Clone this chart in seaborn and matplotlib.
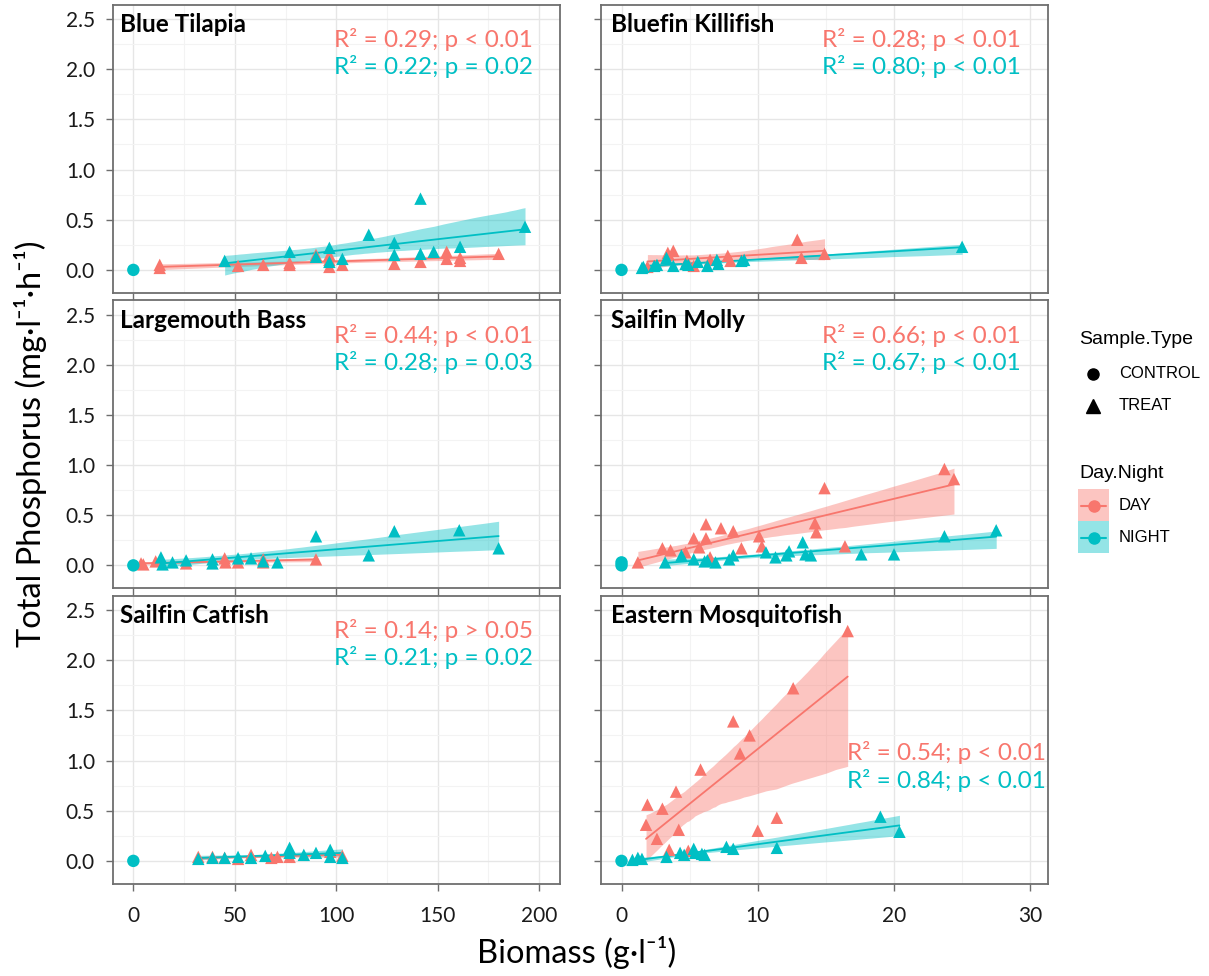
import numpy as np
import pandas as pd
import matplotlib
matplotlib.use("Agg")
import matplotlib.pyplot as plt
import seaborn as sns
from matplotlib.lines import Line2D
from matplotlib.patches import Rectangle
from matplotlib.ticker import MultipleLocator
from matplotlib.collections import PolyCollection

# ---------------- data ----------------
species = ["Blue Tilapia", "Bluefin Killifish", "Largemouth Bass",
           "Sailfin Molly", "Sailfin Catfish", "Eastern Mosquitofish"]

# Blue Tilapia
bt_day_x = [13, 13, 51.6, 64, 77, 77, 90, 96.6, 96.6, 96.6, 103, 128.6, 141.5, 154.4, 154.4, 161, 161, 180]
bt_day_y = [0.05, 0.02, 0.04, 0.05, 0.07, 0.05, 0.15, 0.15, 0.10, 0.03, 0.05, 0.06, 0.08, 0.18, 0.11, 0.12, 0.09, 0.16]
bt_night_x = [45, 77, 90, 96.6, 96.6, 103, 116, 128.6, 128.6, 141.5, 141.5, 148, 161, 193]
bt_night_y = [0.09, 0.18, 0.13, 0.22, 0.08, 0.11, 0.35, 0.27, 0.15, 0.71, 0.16, 0.18, 0.23, 0.43]
bt_ctrl_x = [0]
bt_ctrl_y = [0.0]

# Bluefin Killifish
bk_day_x = [1.9, 3.4, 3.8, 4.8, 5.3, 6.5, 7.8, 8.0, 12.9, 13.2, 14.9]
bk_day_y = [0.03, 0.17, 0.19, 0.09, 0.04, 0.10, 0.14, 0.09, 0.30, 0.12, 0.16]
bk_night_x = [1.5, 1.6, 2.4, 2.6, 3.3, 3.8, 4.7, 4.9, 5.6, 6.3, 7.0, 7.1, 8.8, 9.0, 25.0]
bk_night_y = [0.02, 0.03, 0.04, 0.05, 0.12, 0.04, 0.06, 0.05, 0.08, 0.04, 0.10, 0.06, 0.09, 0.10, 0.23]
bk_ctrl_x = [0]
bk_ctrl_y = [0.0]

# Largemouth Bass
lb_day_x = [3.8, 4.9, 11, 26, 45, 45.4, 51.6, 64, 64, 90]
lb_day_y = [0.02, 0.01, 0.04, 0.02, 0.07, 0.03, 0.03, 0.06, 0.03, 0.06]
lb_night_x = [13.6, 14.4, 19.3, 26, 39, 39, 51.6, 58, 64, 71, 90, 116, 128.6, 160.6, 180]
lb_night_y = [0.08, 0.01, 0.03, 0.05, 0.06, 0.02, 0.07, 0.07, 0.04, 0.03, 0.29, 0.10, 0.34, 0.35, 0.17]
lb_ctrl_x = [0]
lb_ctrl_y = [0.0]

# Sailfin Molly
sm_day_x = [1.2, 3.0, 3.6, 4.7, 5.3, 5.7, 6.2, 6.2, 6.5, 7.3, 8.2, 8.8, 10.1, 10.3, 14.2, 14.3, 14.9, 16.4, 23.7, 24.4]
sm_day_y = [0.03, 0.17, 0.15, 0.13, 0.27, 0.18, 0.41, 0.27, 0.08, 0.37, 0.34, 0.17, 0.29, 0.19, 0.42, 0.33, 0.77, 0.19, 0.96, 0.86]
sm_night_x = [3.2, 4.4, 5.3, 6.1, 6.3, 6.9, 7.9, 8.2, 10.6, 11.3, 12.1, 12.3, 13.3, 13.5, 13.9, 17.6, 20.0, 23.7, 27.5]
sm_night_y = [0.03, 0.10, 0.06, 0.04, 0.05, 0.03, 0.06, 0.10, 0.13, 0.08, 0.10, 0.14, 0.23, 0.11, 0.10, 0.11, 0.11, 0.29, 0.35]
sm_ctrl_x = [0, 0]
sm_ctrl_y = [0.0, 0.03]

# Sailfin Catfish
sc_day_x = [32, 39, 45, 51.6, 58, 68, 71, 77, 97, 103]
sc_day_y = [0.04, 0.04, 0.03, 0.02, 0.06, 0.03, 0.04, 0.04, 0.09, 0.05]
sc_night_x = [32, 39, 45, 51.6, 58, 65, 77, 77, 84, 90, 97, 97, 103]
sc_night_y = [0.02, 0.03, 0.03, 0.04, 0.03, 0.05, 0.13, 0.08, 0.06, 0.08, 0.11, 0.04, 0.03]
sc_ctrl_x = [0]
sc_ctrl_y = [0.0]

# Eastern Mosquitofish
em_day_x = [1.9, 1.8, 2.6, 3.0, 3.5, 4.0, 4.2, 4.9, 5.8, 8.2, 8.7, 9.4, 10.0, 11.4, 12.6, 16.6]
em_day_y = [0.56, 0.36, 0.22, 0.52, 0.11, 0.69, 0.31, 0.10, 0.91, 1.39, 1.07, 1.25, 0.30, 0.43, 1.72, 2.29]
em_night_x = [0.8, 1.2, 1.5, 3.3, 4.3, 4.6, 5.3, 5.4, 5.9, 6.1, 7.7, 8.2, 11.4, 19.0, 20.4]
em_night_y = [0.01, 0.03, 0.02, 0.04, 0.08, 0.06, 0.12, 0.08, 0.07, 0.06, 0.14, 0.12, 0.13, 0.44, 0.29]
em_ctrl_x = [0]
em_ctrl_y = [0.0]

day_stats = ["R² = 0.29; p < 0.01", "R² = 0.28; p < 0.01", "R² = 0.44; p < 0.01",
             "R² = 0.66; p < 0.01", "R² = 0.14; p > 0.05", "R² = 0.54; p < 0.01"]
night_stats = ["R² = 0.22; p = 0.02", "R² = 0.80; p < 0.01", "R² = 0.28; p = 0.03",
               "R² = 0.67; p < 0.01", "R² = 0.21; p = 0.02", "R² = 0.84; p < 0.01"]

y_ticks = [0.0, 0.5, 1.0, 1.5, 2.0, 2.5]
x_ticks_left = [0, 50, 100, 150, 200]
x_ticks_right = [0, 10, 20, 30]

sample_types = ["CONTROL", "TREAT"]
day_night = ["DAY", "NIGHT"]

# ---------------- build table ----------------
groups = {
    "Blue Tilapia": (bt_day_x, bt_day_y, bt_night_x, bt_night_y, bt_ctrl_x, bt_ctrl_y),
    "Bluefin Killifish": (bk_day_x, bk_day_y, bk_night_x, bk_night_y, bk_ctrl_x, bk_ctrl_y),
    "Largemouth Bass": (lb_day_x, lb_day_y, lb_night_x, lb_night_y, lb_ctrl_x, lb_ctrl_y),
    "Sailfin Molly": (sm_day_x, sm_day_y, sm_night_x, sm_night_y, sm_ctrl_x, sm_ctrl_y),
    "Sailfin Catfish": (sc_day_x, sc_day_y, sc_night_x, sc_night_y, sc_ctrl_x, sc_ctrl_y),
    "Eastern Mosquitofish": (em_day_x, em_day_y, em_night_x, em_night_y, em_ctrl_x, em_ctrl_y),
}
rows = []
for sp, (dx, dy, nx, ny, cx, cy) in groups.items():
    for x, y in zip(dx, dy):
        rows.append((sp, x, y, "DAY", "TREAT"))
    for x, y in zip(nx, ny):
        rows.append((sp, x, y, "NIGHT", "TREAT"))
    for x, y in zip(cx, cy):
        rows.append((sp, x, y, "NIGHT", "CONTROL"))
df = pd.DataFrame(rows, columns=["Species", "Biomass", "TP", "Day.Night", "Sample.Type"])

# ---------------- style ----------------
sns.set_theme(style="white")
plt.rcParams["font.family"] = ["Lato", "DejaVu Sans"]

pal = {"DAY": "#F8766D", "NIGHT": "#00BFC4"}
markers = {"CONTROL": "o", "TREAT": "^"}
BAND_ALPHA = 0.42

W, H = 1209, 976
fig, axes = plt.subplots(3, 2, figsize=(W / 100, H / 100), dpi=100, sharex="col", sharey=True)
fig.subplots_adjust(left=0.0935, right=0.8668, top=0.9949, bottom=0.0943,
                    wspace=0.094, hspace=0.026)

for i, sp in enumerate(species):
    ax = axes[i // 2, i % 2]
    sub = df[df["Species"] == sp]
    sub = pd.concat([sub[sub["Day.Night"] == "DAY"], sub[sub["Day.Night"] == "NIGHT"]])
    for dn in day_night:
        t = sub[(sub["Day.Night"] == dn) & (sub["Sample.Type"] == "TREAT")]
        sns.regplot(data=t, x="Biomass", y="TP", scatter=False, ci=95, n_boot=1000, seed=3,
                    color=pal[dn], line_kws=dict(lw=1.3, zorder=2.5), ax=ax, truncate=True)
    for c in ax.collections:
        if isinstance(c, PolyCollection):
            c.set_alpha(BAND_ALPHA)
            c.set_linewidth(0)
    sns.scatterplot(data=sub, x="Biomass", y="TP", hue="Day.Night", style="Sample.Type",
                    markers=markers, palette=pal, s=80, linewidth=0, ax=ax,
                    legend=False, zorder=3)
    ax.set_xlabel("")
    ax.set_ylabel("")
    ax.text(0.016 if i % 2 == 0 else 0.022, 0.932, sp, transform=ax.transAxes,
            fontsize=17.5, fontweight="bold", color="black", ha="left", va="center")
    if i < 5:
        ax.text(0.94, 0.88, day_stats[i], transform=ax.transAxes, fontsize=17.5,
                color=pal["DAY"], ha="right", va="center")
        ax.text(0.94, 0.785, night_stats[i], transform=ax.transAxes, fontsize=17.5,
                color=pal["NIGHT"], ha="right", va="center")
    else:
        ax.text(0.55, 0.455, day_stats[i], transform=ax.transAxes, fontsize=17.5,
                color=pal["DAY"], ha="left", va="center")
        ax.text(0.55, 0.36, night_stats[i], transform=ax.transAxes, fontsize=17.5,
                color=pal["NIGHT"], ha="left", va="center")

for r in range(3):
    for cc in range(2):
        ax = axes[r, cc]
        ax.set_ylim(-0.23, 2.64)
        ax.set_yticks(y_ticks)
        ax.yaxis.set_minor_locator(MultipleLocator(0.25))
        if cc == 0:
            ax.set_xlim(-10, 210)
            ax.set_xticks(x_ticks_left)
            ax.xaxis.set_minor_locator(MultipleLocator(25))
        else:
            ax.set_xlim(-1.47, 31.3)
            ax.set_xticks(x_ticks_right)
            ax.xaxis.set_minor_locator(MultipleLocator(5))
        ax.set_axisbelow(True)
        ax.grid(which="major", color="#E6E6E6", lw=1.0)
        ax.grid(which="minor", color="#F3F3F3", lw=0.8)
        for s in ax.spines.values():
            s.set_color("#6E6E6E")
            s.set_linewidth(1.3)
        ax.tick_params(which="major", length=5, width=1.0, color="#6E6E6E",
                       labelsize=15, labelcolor="#1A1A1A", bottom=True, left=True)
        ax.tick_params(which="minor", length=0)
        ax.xaxis.set_tick_params(which="major", pad=(11 if r == 2 else 4))
        ax.yaxis.set_tick_params(which="major", pad=8)
        if cc == 0:
            ax.set_yticklabels([f"{v:.1f}" for v in y_ticks])

fig.text(0.025, 0.545, "Total Phosphorus (mg·l⁻¹·h⁻¹)", rotation=90, fontsize=23.5,
         ha="center", va="center", color="black")
fig.text(0.477, 0.024, "Biomass (g·l⁻¹)", fontsize=23.5, ha="center", va="center",
         color="black")

# ---------------- legends (drawn as a ggplot-style key) ----------------
def fx(px):
    return px / W

def fy(py):
    return 1 - py / H

leg_family = ["Liberation Sans", "DejaVu Sans"]
fig.text(fx(1079), fy(340), "Sample.Type", fontsize=14, family=leg_family,
         ha="left", va="center", color="black")
for lab, yy in zip(sample_types, [374, 406]):
    fig.add_artist(Line2D([fx(1093)], [fy(yy)], transform=fig.transFigure, ls="",
                          marker=markers[lab], color="black",
                          markersize=(8 if lab == "CONTROL" else 9.5)))
    fig.text(fx(1119), fy(yy), lab, fontsize=12, family=leg_family,
             ha="left", va="center", color="black")

fig.text(fx(1079), fy(473), "Day.Night", fontsize=14, family=leg_family,
         ha="left", va="center", color="black")
for lab, top in zip(day_night, [489, 521]):
    fig.add_artist(Rectangle((fx(1078), fy(top + 32)), fx(1109) - fx(1078), fy(top) - fy(top + 32),
                             transform=fig.transFigure, facecolor=pal[lab],
                             alpha=BAND_ALPHA, lw=0))
    yc = top + 16.5
    fig.add_artist(Line2D([fx(1081), fx(1106)], [fy(yc), fy(yc)], transform=fig.transFigure,
                          color=pal[lab], lw=1.5))
    fig.add_artist(Line2D([fx(1093.5)], [fy(yc)], transform=fig.transFigure, ls="",
                          marker="o", color=pal[lab], markersize=8))
    fig.text(fx(1119), fy(yc), lab, fontsize=12, family=leg_family,
             ha="left", va="center", color="black")

fig.savefig("out.png", dpi=100)
